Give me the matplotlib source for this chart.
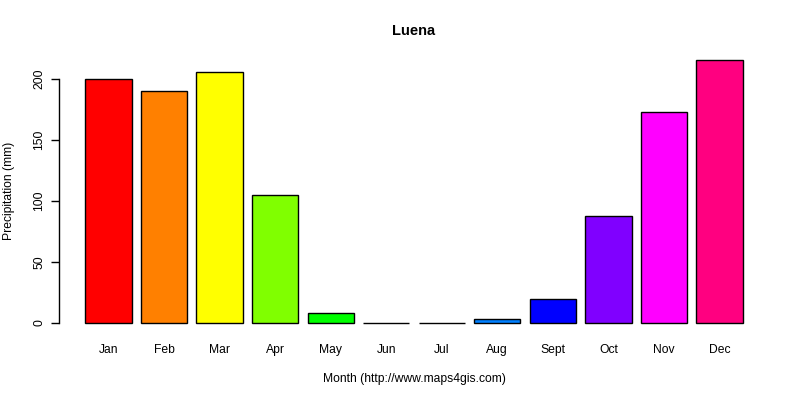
import matplotlib
matplotlib.use("Agg")
import matplotlib.pyplot as plt
import numpy as np

plt.rcParams['font.family'] = ['Liberation Sans', 'DejaVu Sans']

months = ["Jan", "Feb", "Mar", "Apr", "May", "Jun", "Jul", "Aug", "Sept", "Oct", "Nov", "Dec"]
precip = [200, 190, 206, 105, 8, 0, 0, 3, 20, 88, 173, 216]
colors = ["#FF0000", "#FF8000", "#FFFF00", "#80FF00", "#00FF00", "#00FF80",
          "#00FFFF", "#0080FF", "#0000FF", "#8000FF", "#FF00FF", "#FF0080"]
yticks = [0, 50, 100, 150, 200]

# R barplot layout: width 1, space 0.2
n = len(months)
left = 0.2 + 1.2 * np.arange(n)
centers = left + 0.5

fig = plt.figure(figsize=(8, 4), dpi=100)
ax = fig.add_axes([59 / 800, 1 - 333.5 / 400, 710 / 800, 284.5 / 400])

ax.bar(centers, precip, width=1.0, color=colors, edgecolor="black", linewidth=1.0)

x0, x1 = left[0], left[-1] + 1
dx = (x1 - x0) * 0.04
ax.set_xlim(x0 - dx, x1 + dx)
ymax = max(precip)
ax.set_ylim(-ymax * 0.04, ymax * 1.04)

for s in ["top", "right", "bottom"]:
    ax.spines[s].set_visible(False)
ax.spines["left"].set_bounds(0, 200)
ax.spines["left"].set_linewidth(1.0)

ax.set_yticks(yticks)
ax.set_yticklabels([str(v) for v in yticks], rotation=90, va="center", fontsize=8.7)
ax.tick_params(axis="y", direction="out", length=6, width=1.0, pad=4)

ax.set_xticks(centers)
ax.set_xticklabels(months, fontsize=8.7)
ax.tick_params(axis="x", length=0, pad=7.5)

ax.set_title("Luena", fontsize=10.5, fontweight="bold", pad=10)
ax.set_xlabel("Month (http://www.maps4gis.com)", fontsize=8.7, labelpad=12.5)
ax.set_ylabel("Precipitation (mm)", fontsize=8.7, labelpad=13)

fig.savefig("out.png", dpi=100)
